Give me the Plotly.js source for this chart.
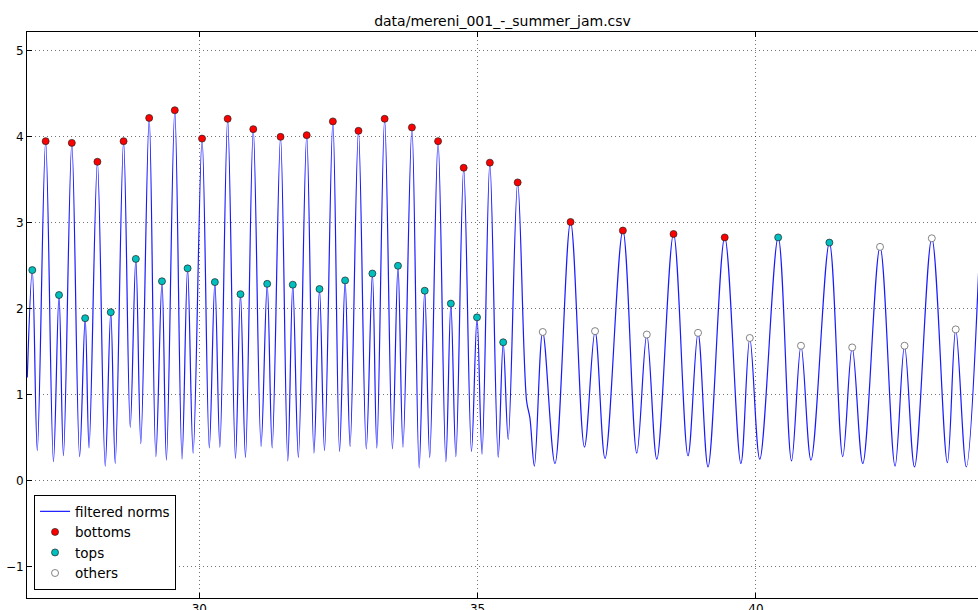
<!DOCTYPE html>
<html>
<head>
<meta charset="utf-8">
<script src="https://cdn.plot.ly/plotly-3.0.1.min.js"></script>
<style>html,body{margin:0;padding:0;background:#fff;}#chart{width:978px;height:610px;}</style>
</head>
<body>
<div id="chart"></div>
<script>
// Filtered norms curve: local extrema (and a shoulder)
const normX = [26.91, 27.00, 27.09, 27.24, 27.38, 27.48, 27.56, 27.71, 27.85, 27.95, 28.02, 28.17, 28.31, 28.41, 28.49, 28.64, 28.76, 28.86, 28.95, 29.10, 29.22, 29.33, 29.41, 29.56, 29.69, 29.79, 29.89, 30.05, 30.18, 30.28, 30.37, 30.51, 30.65, 30.74, 30.83, 30.97, 31.11, 31.22, 31.31, 31.46, 31.59, 31.68, 31.78, 31.93, 32.06, 32.16, 32.25, 32.40, 32.52, 32.62, 32.71, 32.86, 33.00, 33.11, 33.19, 33.33, 33.47, 33.57, 33.66, 33.82, 33.95, 34.05, 34.14, 34.29, 34.43, 34.52, 34.61, 34.75, 34.89, 34.99, 35.08, 35.22, 35.37, 35.46, 35.55, 35.72, 35.88, 35.94, 36.02, 36.17, 36.39, 36.67, 36.92, 37.11, 37.29, 37.61, 37.86, 38.04, 38.22, 38.52, 38.78, 38.96, 39.14, 39.44, 39.73, 39.89, 40.07, 40.40, 40.64, 40.81, 40.99, 41.32, 41.56, 41.73, 41.92, 42.23, 42.50, 42.67, 42.85, 43.16, 43.44, 43.59, 43.78, 44.00];
const normY = [1.20, 2.45, 0.35, 3.95, 0.22, 2.16, 0.29, 3.93, 0.28, 1.89, 0.38, 3.71, 0.17, 1.96, 0.20, 3.95, 0.62, 2.58, 0.43, 4.22, 0.28, 2.32, 0.24, 4.31, 0.25, 2.47, 0.32, 3.98, 0.38, 2.31, 0.39, 4.21, 0.26, 2.17, 0.27, 4.09, 0.40, 2.29, 0.38, 4.00, 0.23, 2.28, 0.27, 4.02, 0.32, 2.23, 0.35, 4.18, 0.34, 2.33, 0.40, 4.07, 0.37, 2.41, 0.38, 4.21, 0.37, 2.50, 0.39, 4.11, 0.15, 2.21, 0.27, 3.95, 0.22, 2.06, 0.28, 3.64, 0.34, 1.90, 0.31, 3.70, 0.27, 1.61, 0.48, 3.47, 0.93, 0.73, 0.17, 1.73, 0.20, 3.01, 0.39, 1.74, 0.26, 2.91, 0.32, 1.70, 0.25, 2.87, 0.29, 1.72, 0.16, 2.83, 0.20, 1.66, 0.25, 2.83, 0.23, 1.57, 0.24, 2.77, 0.28, 1.55, 0.20, 2.72, 0.17, 1.57, 0.16, 2.82, 0.21, 1.76, 0.16, 2.42];

const bottomsX = [27.24, 27.71, 28.17, 28.64, 29.10, 29.56, 30.05, 30.51, 30.97, 31.46, 31.93, 32.40, 32.86, 33.33, 33.82, 34.29, 34.75, 35.22, 35.72, 36.67, 37.61, 38.52, 39.44];
const bottomsY = [3.95, 3.93, 3.71, 3.95, 4.22, 4.31, 3.98, 4.21, 4.09, 4.00, 4.02, 4.18, 4.07, 4.21, 4.11, 3.95, 3.64, 3.70, 3.47, 3.01, 2.91, 2.87, 2.83];

const topsX = [27.00, 27.48, 27.95, 28.41, 28.86, 29.33, 29.79, 30.28, 30.74, 31.22, 31.68, 32.16, 32.62, 33.11, 33.57, 34.05, 34.52, 34.99, 35.46, 40.40, 41.32];
const topsY = [2.45, 2.16, 1.89, 1.96, 2.58, 2.32, 2.47, 2.31, 2.17, 2.29, 2.28, 2.23, 2.33, 2.41, 2.50, 2.21, 2.06, 1.90, 1.61, 2.83, 2.77];

const othersX = [36.17, 37.11, 38.04, 38.96, 39.89, 40.81, 41.73, 42.23, 42.67, 43.16, 43.59];
const othersY = [1.73, 1.74, 1.70, 1.72, 1.66, 1.57, 1.55, 2.72, 1.57, 2.82, 1.76];

const xTicks = [30, 35, 40];
const yTicks = [-1, 0, 1, 2, 3, 4, 5];
const yTickText = ['\u22121', '0', '1', '2', '3', '4', '5'];

const FONT = 'DejaVu Sans, sans-serif';

const traces = [
  {x: normX, y: normY, type: 'scatter', mode: 'lines', name: 'filtered norms',
   line: {color: 'rgb(25,25,255)', width: 1.2, shape: 'spline', smoothing: 1}},
  {x: bottomsX, y: bottomsY, type: 'scatter', mode: 'markers', name: 'bottoms',
   marker: {color: '#ff0000', size: 7, line: {color: '#222', width: 0.7}}},
  {x: topsX, y: topsY, type: 'scatter', mode: 'markers', name: 'tops',
   marker: {color: '#00bfbf', size: 7, line: {color: '#222', width: 0.7}}},
  {x: othersX, y: othersY, type: 'scatter', mode: 'markers', name: 'others',
   marker: {color: '#ffffff', size: 7, line: {color: '#666', width: 0.8}}}
];

const GRID = {showgrid: true, gridcolor: 'rgba(0,0,0,0.55)', griddash: '1px,3px', gridwidth: 1};

const layout = {
  width: 978, height: 610,
  margin: {l: 27, r: 0, t: 32, b: 12, pad: 0},
  paper_bgcolor: '#ffffff', plot_bgcolor: '#ffffff',
  font: {family: FONT, size: 12, color: '#000'},
  title: {text: 'data/mereni_001_-_summer_jam.csv', font: {family: FONT, size: 14, color: '#000'},
          x: 0.5, xref: 'paper', xanchor: 'center', y: 1 - 21/610, yref: 'container', yanchor: 'middle'},
  showlegend: true,
  legend: {x: 0.0074, y: 0.014, xanchor: 'left', yanchor: 'bottom', bgcolor: '#ffffff',
           bordercolor: '#000', borderwidth: 1, font: {family: FONT, size: 13.5, color: '#000'},
           itemwidth: 30, tracegroupgap: 0},
  xaxis: Object.assign({range: [26.905, 43.99], tickvals: xTicks, ticktext: xTicks.map(String),
          ticks: 'inside', ticklen: 5, tickcolor: '#000', tickwidth: 1,
          showline: true, linecolor: '#000', linewidth: 1, mirror: 'ticks',
          zeroline: false, automargin: false, tickfont: {family: FONT, size: 12, color: '#000'}}, GRID),
  yaxis: Object.assign({range: [-1.365, 5.22], tickvals: yTicks, ticktext: yTickText,
          ticks: 'inside', ticklen: 5, tickcolor: '#000', tickwidth: 1,
          showline: true, linecolor: '#000', linewidth: 1, mirror: false,
          zeroline: false, automargin: false, tickfont: {family: FONT, size: 12, color: '#000'}}, GRID)
};

Plotly.newPlot('chart', traces, layout, {staticPlot: true, displayModeBar: false});
</script>
</body>
</html>
